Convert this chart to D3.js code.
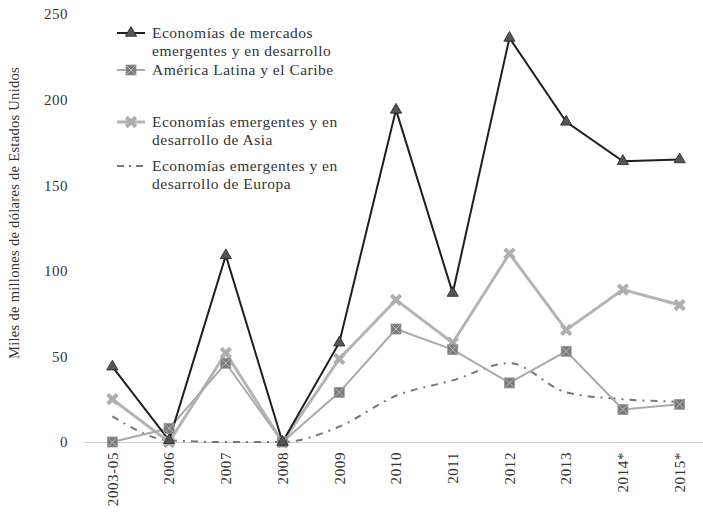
<!DOCTYPE html>
<html>
<head>
<meta charset="utf-8">
<script src="https://cdnjs.cloudflare.com/ajax/libs/d3/7.8.5/d3.min.js"></script>
<style>
	body { margin: 0; background: #fff; }
	#chart { width: 703px; height: 512px; }
</style>
</head>
<body>
<div id="chart"></div>
<script>
//Datos
var categorias = ["2003-05", "2006", "2007", "2008", "2009", "2010", "2011", "2012", "2013", "2014*", "2015*"];
var emergentes = [44, 1, 109, 0, 58, 194, 87, 236, 187, 164, 165];
var latina = [0, 8, 46, 0, 29, 66, 54, 34.5, 53, 19, 22];
var asia = [25, 0, 52, 0, 48.5, 83, 58, 110, 65.5, 89, 80];
var europa = [15, 1, 0, 0, 9, 27, 36, 46, 29, 25, 23.5];
var ticksY = [0, 50, 100, 150, 200, 250];
var nombres = [
	["Economías de mercados", "emergentes y en desarrollo"],
	["América Latina y el Caribe"],
	["Economías emergentes y en", "desarrollo de Asia"],
	["Economías emergentes y en", "desarrollo de Europa"]
];

(function () {
	'use strict';
	var width = 703, height = 512;
	var fuente = "Liberation Serif";
	var svg = d3.select("#chart").append("svg")
		.attr("width", width)
		.attr("height", height)
		.attr("font-family", fuente);

	//Escalas
	var x = d3.scaleBand()
		.domain(categorias)
		.range([84, 708]);
	var y = d3.scaleLinear()
		.domain([0, 250])
		.range([442, 14]);
	var cx = function(d, i) { return x(categorias[i]) + x.bandwidth() / 2; };

	//Eje Y (solo etiquetas)
	var ejeY = svg.append("g")
		.attr("transform", "translate(68,0)")
		.call(d3.axisLeft(y).tickValues(ticksY).tickSize(0).tickPadding(0));
	ejeY.attr("font-family", fuente);
	ejeY.select(".domain").remove();
	ejeY.selectAll("text")
		.attr("font-family", fuente)
		.attr("font-size", 15)
		.attr("letter-spacing", 0.5)
		.attr("fill", "#333");

	//Eje X
	var ejeX = svg.append("g")
		.attr("transform", "translate(0,442)")
		.call(d3.axisBottom(x).tickSize(0).tickPadding(0));
	ejeX.attr("font-family", fuente);
	ejeX.select(".domain").attr("stroke", "#ccc").attr("stroke-width", 1);
	ejeX.selectAll("text")
		.attr("font-family", fuente)
		.attr("font-size", 15)
		.attr("letter-spacing", 0.6)
		.attr("fill", "#333")
		.attr("transform", "rotate(-90)")
		.attr("x", -10)
		.attr("y", 0)
		.attr("dy", "0.35em")
		.attr("text-anchor", "end");

	//Título del eje Y
	svg.append("text")
		.attr("transform", "translate(19,213) rotate(-90)")
		.attr("text-anchor", "middle")
		.attr("font-family", fuente)
		.attr("font-size", 14.5)
		.attr("letter-spacing", 0.3)
		.attr("fill", "#333")
		.text("Miles de millones de dólares de Estados Unidos");

	var linea = d3.line()
		.x(cx)
		.y(function(d) { return y(d); });
	var lineaSuave = d3.line()
		.x(cx)
		.y(function(d) { return y(d); })
		.curve(d3.curveMonotoneX);

	//Europa (punto y raya)
	svg.append("path")
		.datum(europa)
		.attr("d", lineaSuave)
		.attr("fill", "none")
		.attr("stroke", "#777")
		.attr("stroke-width", 2)
		.attr("stroke-dasharray", "7,6,2,6");

	//Asia
	svg.append("path")
		.datum(asia)
		.attr("d", linea)
		.attr("fill", "none")
		.attr("stroke", "#b4b4b6")
		.attr("stroke-width", 3);

	//América Latina
	svg.append("path")
		.datum(latina)
		.attr("d", linea)
		.attr("fill", "none")
		.attr("stroke", "#aaa")
		.attr("stroke-width", 2);

	//Emergentes
	svg.append("path")
		.datum(emergentes)
		.attr("d", linea)
		.attr("fill", "none")
		.attr("stroke", "#1e1e1e")
		.attr("stroke-width", 2);

	//Marcadores
	var estrella = d3.symbol().type(d3.symbolTimes).size(60);
	var triangulo = d3.symbol().type(d3.symbolTriangle).size(55);

	function marcaAsia(g) {
		g.append("path")
			.attr("d", estrella)
			.attr("fill", "none")
			.attr("stroke", "#aeaeb0")
			.attr("stroke-width", 4);
	}
	function marcaLatina(g) {
		g.append("rect")
			.attr("x", -5).attr("y", -5)
			.attr("width", 10).attr("height", 10)
			.attr("fill", "#7a7a7a")
			.attr("stroke", "#999")
			.attr("stroke-width", 0.8);
		g.append("path")
			.attr("d", "M-4,-4L4,4M-4,4L4,-4")
			.attr("stroke", "#b8b8b8")
			.attr("stroke-width", 1);
	}
	function marcaEmergentes(g) {
		g.append("path")
			.attr("d", triangulo)
			.attr("fill", "#555")
			.attr("stroke", "#222")
			.attr("stroke-width", 0.8);
	}

	svg.append("g").selectAll("g")
		.data(asia)
		.enter().append("g")
		.attr("transform", function(d, i) { return "translate(" + cx(d, i) + "," + y(d) + ")"; })
		.call(marcaAsia);
	svg.append("g").selectAll("g")
		.data(latina)
		.enter().append("g")
		.attr("transform", function(d, i) { return "translate(" + cx(d, i) + "," + y(d) + ")"; })
		.call(marcaLatina);
	svg.append("g").selectAll("g")
		.data(emergentes)
		.enter().append("g")
		.attr("transform", function(d, i) { return "translate(" + cx(d, i) + "," + y(d) + ")"; })
		.call(marcaEmergentes);

	//Leyenda
	var filasY = [33, 70, 122, 166];
	var leyenda = svg.append("g");
	var estilos = [
		{ stroke: "#1e1e1e", w: 2, dash: null, marca: marcaEmergentes },
		{ stroke: "#aaa", w: 2, dash: null, marca: marcaLatina },
		{ stroke: "#b4b4b6", w: 3, dash: null, marca: marcaAsia },
		{ stroke: "#777", w: 2, dash: "7,5,2,5", marca: null }
	];
	nombres.forEach(function(n, k) {
		var fila = leyenda.append("g").attr("transform", "translate(0," + filasY[k] + ")");
		fila.append("line")
			.attr("x1", 117).attr("x2", 145)
			.attr("stroke", estilos[k].stroke)
			.attr("stroke-width", estilos[k].w)
			.attr("stroke-dasharray", estilos[k].dash);
		if (estilos[k].marca) {
			fila.append("g").attr("transform", "translate(131,0)").call(estilos[k].marca);
		}
		fila.selectAll("text.etq")
			.data(n)
			.enter().append("text")
			.attr("class", "etq")
			.attr("x", 152)
			.attr("y", function(d, j) { return j * 18; })
			.attr("dy", "0.35em")
			.attr("font-family", fuente)
			.attr("font-size", 15.5)
			.attr("letter-spacing", 0.5)
			.attr("fill", "#333")
			.text(function(d) { return d; });
	});
}());
</script>
</body>
</html>
